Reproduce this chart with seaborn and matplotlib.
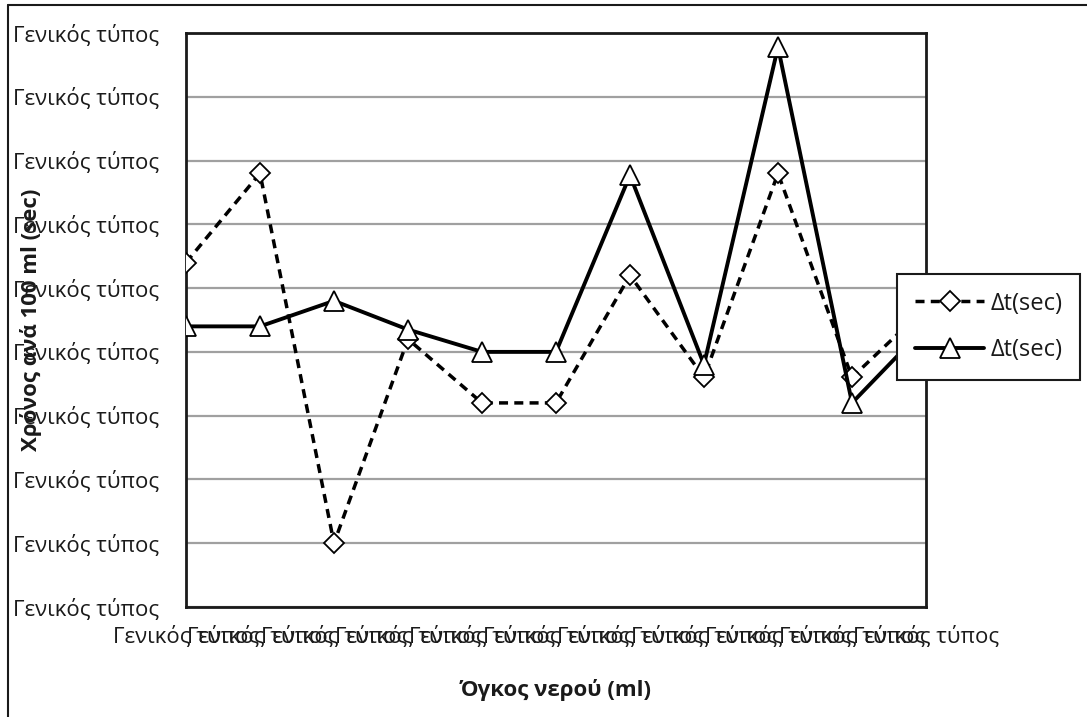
import matplotlib
matplotlib.use("Agg")
import matplotlib.pyplot as plt
from matplotlib.lines import Line2D
import seaborn as sns
import pandas as pd

# Measurement index along the horizontal axis and the two Δt series
positions = [0, 1, 2, 3, 4, 5, 6, 7, 8, 9, 10]
dt_dashed = [5.4, 6.8, 1.0, 4.2, 3.2, 3.2, 5.2, 3.6, 6.8, 3.6, 4.7]
dt_solid = [4.4, 4.4, 4.8, 4.35, 4.0, 4.0, 6.77, 3.8, 8.78, 3.2, 4.4]
y_levels = [0, 1, 2, 3, 4, 5, 6, 7, 8, 9]
tick_text = "Γενικός τύπος"
series_label = "Δt(sec)"
x_title = "Όγκος νερού (ml)"
y_title = "Χρόνος ανά 100 ml (sec)"

sns.set_style("white")
plt.rcParams["font.family"] = ["Open Sans", "DejaVu Sans"]

W, H = 1087, 717
FS = 16
INK = "#1a1a1a"
fig = plt.figure(figsize=(W / 100, H / 100), dpi=100)
ax = fig.add_axes([186 / W, 1 - 607 / H, (926 - 186) / W, (607 - 33) / H])

df = pd.DataFrame({"pos": positions, "a": dt_dashed, "b": dt_solid})

sns.lineplot(data=df, x="pos", y="a", ax=ax, color="black", linewidth=2.5,
             linestyle=(0, (2.6, 1.8)), marker="D", markersize=10.5,
             markerfacecolor="white", markeredgecolor="black",
             markeredgewidth=1.3, sort=False, label=series_label, zorder=3)
sns.lineplot(data=df, x="pos", y="b", ax=ax, color="black", linewidth=2.8,
             marker="^", markersize=14, markerfacecolor="white",
             markeredgecolor="black", markeredgewidth=1.3, sort=False,
             label=series_label, zorder=3)

ax.set_xlim(positions[0], positions[-1])
ax.set_ylim(y_levels[0], y_levels[-1])
ax.set_xticks(positions)
ax.set_xticklabels([tick_text] * len(positions))
ax.set_yticks(y_levels)
ax.set_yticklabels([tick_text] * len(y_levels))

ax.yaxis.grid(True, color="#a0a0a0", linewidth=1.6)
ax.set_axisbelow(True)
for s in ax.spines.values():
    s.set_visible(True)
    s.set_color(INK)
    s.set_linewidth(2)

ax.tick_params(axis="both", which="major", direction="out", length=7,
               width=1.5, color=INK, labelsize=FS, labelcolor=INK)
ax.tick_params(axis="x", pad=7)
ax.tick_params(axis="y", pad=12)

ax.set_xlabel("")
ax.set_ylabel("")
fig.text(556 / W, 1 - 690 / H, x_title, fontsize=FS, fontweight="bold",
         color=INK, ha="center", va="center")
fig.text(31 / W, 1 - 320 / H, y_title, fontsize=FS, fontweight="bold",
         color=INK, ha="center", va="center", rotation=90)

ax.get_legend().remove()
handles, labels = ax.get_legend_handles_labels()
leg = fig.legend(handles, labels, loc="upper left",
                 bbox_to_anchor=(897 / W, 1 - 274 / H), fontsize=17,
                 frameon=True, fancybox=False, borderpad=0.75,
                 labelspacing=0.95, handlelength=2.95, handletextpad=0.27,
                 borderaxespad=0)
leg.get_frame().set_edgecolor(INK)
leg.get_frame().set_linewidth(1.5)
leg.get_frame().set_alpha(1)
for t in leg.get_texts():
    t.set_color(INK)

# Outer chart-area frame
fig.add_artist(Line2D([8 / W, 8 / W], [0, 1 - 5 / H], transform=fig.transFigure,
                      color=INK, linewidth=1.5))
fig.add_artist(Line2D([8 / W, 1], [1 - 5 / H, 1 - 5 / H], transform=fig.transFigure,
                      color=INK, linewidth=1.5))

fig.savefig("out.png", dpi=100)
